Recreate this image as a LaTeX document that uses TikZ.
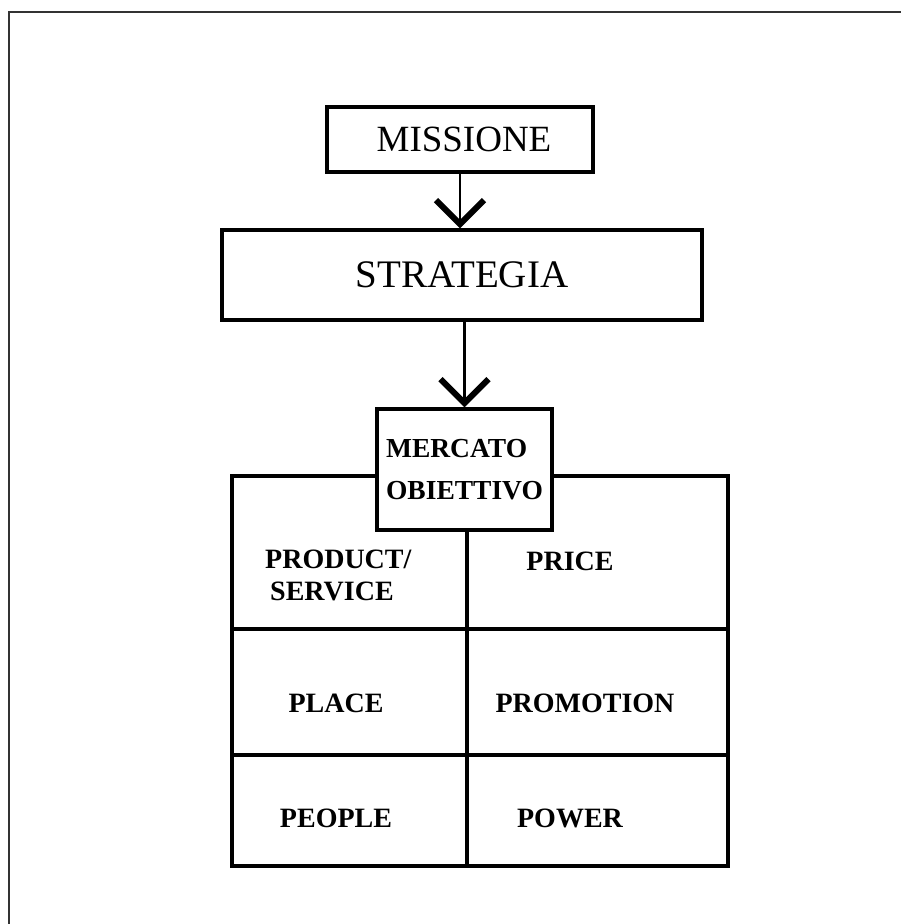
\documentclass[tikz,border=0pt]{standalone}
\usepackage{fontspec}
\setmainfont{Liberation Serif}
\usetikzlibrary{arrows.meta}
\begin{document}
\begin{tikzpicture}[x=1pt,y=-1pt,
  box/.style={draw, line width=3.4pt, fill=white, inner sep=0pt},
  flow/.style={line width=2.8pt, -{Straight Barb[length=24pt,width=48pt,line width=6pt]}},
  gridline/.style={line width=3.4pt},
  cell/.style={font=\bfseries\fontsize{28}{32}\selectfont, inner sep=0pt},
]
\useasboundingbox (0,0) rectangle (901,924);
% page frame (left and top edges only)
\draw[line width=1.6pt, black!80] (9,924) -- (9,12) -- (901,12);

% upper chain
\node[box, minimum width=266pt, minimum height=65pt,
      font=\fontsize{37}{40}\selectfont] (mis) at (460,139.5) {\hspace*{8pt}MISSIONE};
\node[box, minimum width=480pt, minimum height=90pt,
      font=\fontsize{39}{42}\selectfont] (str) at (462,275) {STRATEGIA};
\draw[flow] (mis.south) -- (mis.south |- str.north);

% marketing-mix grid
\coordinate (gtl) at (232,476);
\coordinate (gbr) at (728,866);
\draw[gridline] (gtl) rectangle (gbr);
\draw[gridline] (gtl |- 0,629) -- (gbr |- 0,629);
\draw[gridline] (gtl |- 0,755) -- (gbr |- 0,755);

% target market box on top of the grid
\node[box, minimum width=175pt, minimum height=121pt, align=left,
      font=\bfseries\fontsize{27.5}{42}\selectfont] (mer) at (464.5,469.5)
      {MERCATO\\OBIETTIVO};
\draw[gridline] ([xshift=2.5pt]mer.south) -- ([xshift=2.5pt]mer.south |- gbr);
\draw[flow] (str.south -| mer.north) -- (mer.north);

% cell labels
\node[cell, anchor=base west] (prod1) at (265,568) {PRODUCT/};
\node[cell, anchor=base west] (prod2) at (270,600) {SERVICE};
\node[cell, anchor=base] (price) at (570,570) {PRICE};
\node[cell, anchor=base] (place) at (336,712) {PLACE};
\node[cell, anchor=base] (promo) at (585,712) {PROMOTION};
\node[cell, anchor=base] (people) at (336,827) {PEOPLE};
\node[cell, anchor=base] (power) at (570,827) {POWER};
\end{tikzpicture}
\end{document}
